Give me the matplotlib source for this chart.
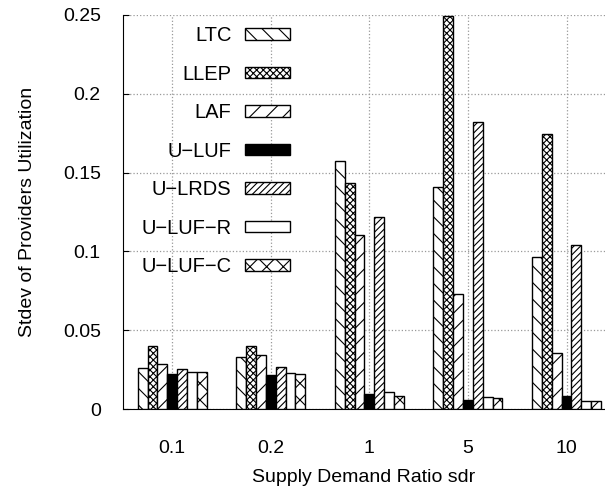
import numpy as np
import matplotlib
matplotlib.use("Agg")
from matplotlib import pyplot as plt

plt.rcParams['font.family'] = ['Liberation Sans', 'DejaVu Sans']
plt.rcParams['hatch.linewidth'] = 0.8

sdr = ['0.1', '0.2', '1', '5', '10']
methods = ['LTC', 'LLEP', 'LAF', 'U\u2212LUF', 'U\u2212LRDS', 'U\u2212LUF\u2212R', 'U\u2212LUF\u2212C']

ltc = [0.0262, 0.0330, 0.1576, 0.1407, 0.0964]
llep = [0.0400, 0.0400, 0.1434, 0.2496, 0.1743]
laf = [0.0286, 0.0340, 0.1104, 0.0728, 0.0357]
u_luf = [0.0222, 0.0218, 0.0095, 0.0059, 0.0082]
u_lrds = [0.0254, 0.0267, 0.1218, 0.1819, 0.1040]
u_luf_r = [0.0237, 0.0228, 0.0106, 0.0076, 0.0053]
u_luf_c = [0.0233, 0.0220, 0.0081, 0.0072, 0.0053]

series = [ltc, llep, laf, u_luf, u_lrds, u_luf_r, u_luf_c]
hatches = ['\\\\', 'xxxxx', '//', '', '/////', '', 'xx']
faces = ['white', 'white', 'white', 'black', 'white', 'white', 'white']

yticks = [0, 0.05, 0.1, 0.15, 0.2, 0.25]
ylabels = ['0', '0.05', '0.1', '0.15', '0.2', '0.25']

fs = 14

fig = plt.figure(figsize=(6.05, 4.95), dpi=100)
ax = fig.add_axes([0.2033, 0.1737, 0.7967, 0.796])

x = np.arange(len(sdr))
w = 0.1
for i, vals in enumerate(series):
    ax.bar(x + (i - 3) * w, vals, w, color=faces[i], edgecolor='black',
           hatch=hatches[i], linewidth=1.0, label=methods[i], zorder=3)

ax.set_xlim(-0.5, 4.39)
ax.set_ylim(0, 0.25)
ax.set_xticks(x)
ax.set_xticklabels(sdr)
ax.set_yticks(yticks)
ax.set_yticklabels(ylabels)
ax.tick_params(axis='x', length=0, pad=22, labelsize=fs)
ax.tick_params(axis='y', direction='in', length=4, pad=16, labelsize=fs)

ax.grid(True, linestyle=':', color='#999999', linewidth=0.9, zorder=0)
ax.set_axisbelow(True)
for s in ['top', 'right']:
    ax.spines[s].set_visible(False)

ax.set_xlabel('Supply Demand Ratio sdr', fontsize=fs, labelpad=9)
ax.set_ylabel('Stdev of Providers Utilization', fontsize=fs, labelpad=19)

leg = ax.legend(loc='upper right', bbox_to_anchor=(0.3465, 0.972), frameon=False,
                markerfirst=False, fontsize=14.5, handlelength=2.25,
                handleheight=0.5, labelspacing=0.97, handletextpad=0.65,
                borderpad=0, borderaxespad=0)

fig.savefig('out.png', dpi=100)
